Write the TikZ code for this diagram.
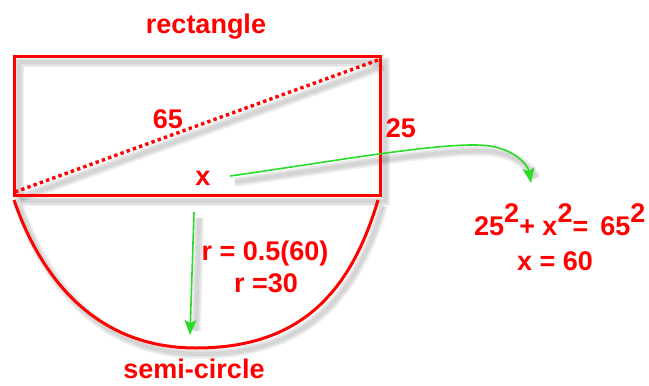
\documentclass[tikz,border=0pt]{standalone}
\usepackage{fontspec}
\setmainfont{Liberation Sans}
\usetikzlibrary{arrows.meta}
\definecolor{rd}{RGB}{255,0,0}
\definecolor{gr}{RGB}{40,220,40}
\begin{document}
\begin{tikzpicture}[x=1pt,y=-1pt,
  lbl/.style={text=rd, font=\fontsize{27}{30}\selectfont\bfseries, inner sep=0pt},
  redline/.style={draw=rd, line width=3pt},
  dotline/.style={draw=rd, line width=3.4pt, dash pattern=on 3.4pt off 3.2pt},
  grarrow/.style={draw=gr, line width=1.6pt, -{Stealth[length=15pt,width=12pt,inset=3pt]}},
  shd/.style={draw=black, opacity=0.06, line width=#1},
]
\path[use as bounding box] (0,0) rectangle (649,386);
% shadows
\begin{scope}[xshift=5pt,yshift=-6pt]
  \foreach \w in {10,7,4}{
    \draw[shd=\w pt] (14,56) rectangle (380,195);
    \draw[shd=\w pt] (15,192) -- (378,60);
    \draw[shd=\w pt] (14,200) .. controls (45,290) and (105,348) .. (196,348)
                              .. controls (298,348) and (350,295) .. (378,200);
    \draw[shd=\w pt] (230,176) .. controls (330,162) and (450,140) .. (490,146)
                              .. controls (515,150) and (528,165) .. (531,172);
    \draw[shd=\w pt] (194,212) -- (191,325);
  }
\end{scope}
% shapes
\draw[redline] (14,56) rectangle (380,195);
\draw[dotline] (15,192) -- (378,60);
\draw[redline] (14,200) .. controls (45,290) and (105,348) .. (196,348)
                        .. controls (298,348) and (350,295) .. (378,200);
% labels
\node[lbl, anchor=base] (rect) at (206,33) {rectangle};
\node[lbl, anchor=base] (semi) at (194,378) {semi-circle};
\node[lbl, anchor=base] (d65) at (168,128) {65};
\node[lbl, anchor=base] (d25) at (401,137) {25};
\node[lbl, anchor=base] (xl) at (203,185) {x};
\node[lbl, anchor=base] (r1) at (265,260) {r = 0.5(60)};
\node[lbl, anchor=base] (r2) at (266,292) {r =30};
\node[lbl, anchor=base west] (eq) at (474,235) {25\raisebox{13pt}{2}+ x\raisebox{13pt}{2}= \,65\raisebox{13pt}{2}};
\node[lbl, anchor=base] (xs) at (555,270) {x = 60};
% arrows
\coordinate (a1s) at (230,176);
\coordinate (a1e) at (531,183);
\coordinate (a2s) at (194,212);
\coordinate (a2e) at (190,335);
\draw[grarrow] (a1s) .. controls (330,162) and (450,140) .. (490,146)
                     .. controls (515,150) and (528,165) .. (a1e);
\draw[grarrow] (a2s) -- (a2e);
\end{tikzpicture}
\end{document}
